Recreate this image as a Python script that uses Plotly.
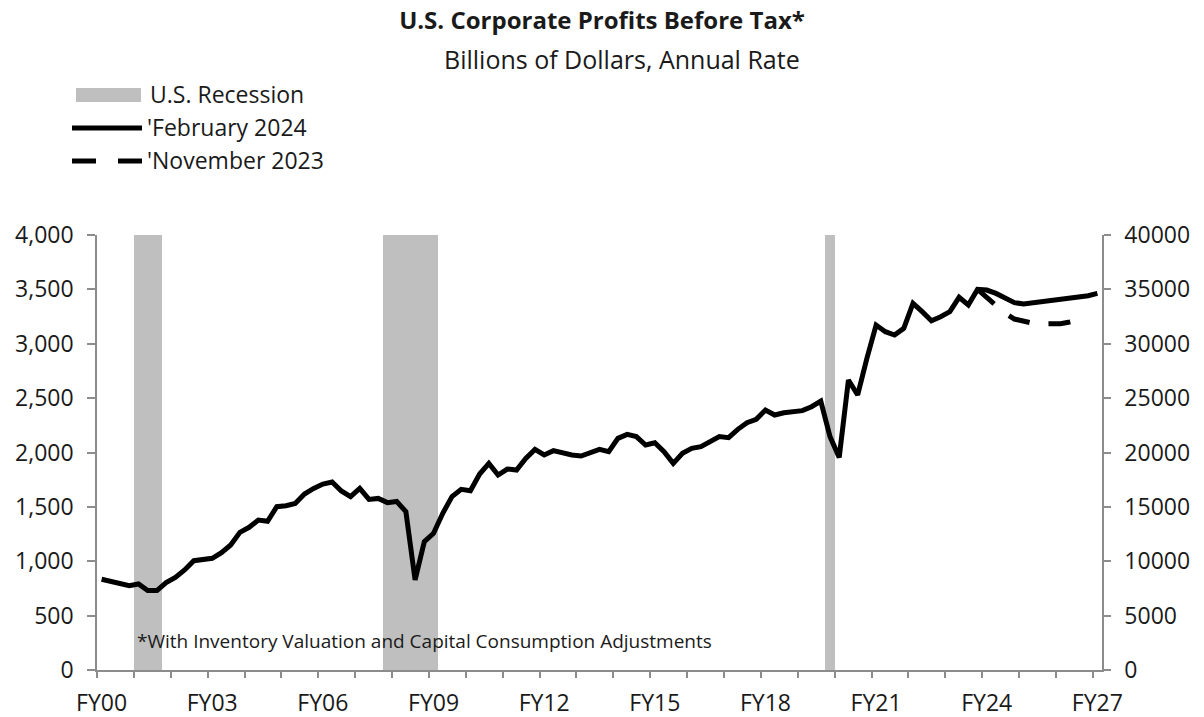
import plotly.graph_objects as go

# ---------------- data (quarterly, 2000Q1 .. 2027Q1) ----------------
feb2024 = [834, 812, 791, 775, 791, 730, 730, 803, 852, 920, 1005, 1011, 1027, 1079, 1149, 1266,
           1312, 1379, 1367, 1502, 1511, 1532, 1618, 1670, 1710, 1729, 1646, 1594, 1670, 1569, 1578, 1539,
           1550, 1456, 828, 1180, 1257, 1441, 1594, 1661, 1649, 1802, 1900, 1793, 1848, 1839, 1946, 2029,
           1977, 2017, 1992, 1977, 1968, 1998, 2029, 2008, 2130, 2167, 2146, 2069, 2090, 2008, 1900, 1992,
           2038, 2054, 2100, 2146, 2136, 2213, 2274, 2305, 2391, 2345, 2366, 2370, 2385, 2421, 2473, 2146,
           1955, 2667, 2529, 2866, 3172, 3111, 3080, 3142, 3372, 3295, 3212, 3249, 3295, 3427, 3356, 3500,
           3494, 3463, 3417, 3378, 3365, 3375, 3387, 3396, 3408, 3411, 3427, 3442, 3463]

nov2023_start = 95          # quarter index where the November 2023 forecast is visible
nov2023 = [3500, 3427, 3360, 3280, 3227, 3203, 3188, 3182, 3179, 3185, 3200, 3218]

recession_quarters = [4, 5, 6, 31, 32, 33, 34, 35, 36, 79]

tick_positions = [0, 12, 24, 36, 48, 60, 72, 84, 96, 108]
tick_labels = ["FY00", "FY03", "FY06", "FY09", "FY12", "FY15", "FY18", "FY21", "FY24", "FY27"]
year_boundaries = [-0.5 + 4 * k for k in range(28)]

left_ticks = list(range(0, 4001, 500))
right_ticks = list(range(0, 40001, 5000))

# ---------------- geometry helpers ----------------
W, H = 1204, 717
L, R, T, B = 97, 1102, 235, 670


def px(x):
    return (x - L) / (R - L)


def py(y):
    return (B - y) / (B - T)


FONT = "Open Sans"
TXT = "#1a1a1a"
AX = "#8c8c8c"
REC = "#BFBFBF"
LW = 5
FS = 23

x_all = list(range(len(feb2024)))
rec_y = [4000 if i in recession_quarters else None for i in x_all]

fig = go.Figure()
fig.add_trace(go.Bar(x=x_all, y=rec_y, width=1, marker=dict(color=REC, line=dict(width=0)),
                     name="U.S. Recession", showlegend=False, hoverinfo="skip"))
fig.add_trace(go.Scatter(x=list(range(nov2023_start, nov2023_start + len(nov2023))), y=nov2023,
                         mode="lines", name="'November 2023", showlegend=False,
                         line=dict(color="black", width=LW, dash="22px,19px")))
fig.add_trace(go.Scatter(x=x_all, y=feb2024, mode="lines", name="'February 2024", showlegend=False,
                         line=dict(color="black", width=LW)))
fig.add_trace(go.Scatter(x=[None], y=[None], yaxis="y2", showlegend=False, hoverinfo="skip"))

# ---------------- manual legend ----------------
shapes = [
    dict(type="rect", xref="paper", yref="paper", x0=px(76), x1=px(141), y0=py(102), y1=py(88),
         fillcolor=REC, line=dict(width=0)),
    dict(type="line", xref="paper", yref="paper", x0=px(72), x1=px(142), y0=py(128), y1=py(128),
         line=dict(color="black", width=LW)),
    dict(type="line", xref="paper", yref="paper", x0=px(72), x1=px(142), y0=py(161), y1=py(161),
         line=dict(color="black", width=LW, dash="24px,22px")),
]

annotations = [
    dict(text="Billions of Dollars, Annual Rate", xref="paper", yref="paper", x=px(622), y=py(59),
         xanchor="center", yanchor="middle", showarrow=False, font=dict(family=FONT, size=25, color=TXT)),
    dict(text="U.S. Recession", xref="paper", yref="paper", x=px(148), y=py(94),
         xanchor="left", yanchor="middle", showarrow=False, font=dict(family=FONT, size=FS, color=TXT)),
    dict(text="'February 2024", xref="paper", yref="paper", x=px(145), y=py(127),
         xanchor="left", yanchor="middle", showarrow=False, font=dict(family=FONT, size=FS, color=TXT)),
    dict(text="'November 2023", xref="paper", yref="paper", x=px(145), y=py(160),
         xanchor="left", yanchor="middle", showarrow=False, font=dict(family=FONT, size=FS, color=TXT)),
    dict(text="*With Inventory Valuation and Capital Consumption Adjustments", xref="paper", yref="paper",
         x=px(135), y=py(641), xanchor="left", yanchor="middle", showarrow=False,
         font=dict(family=FONT, size=19, color=TXT)),
]

fig.update_layout(
    width=W, height=H,
    margin=dict(l=L, r=W - R, t=T, b=H - B, pad=0, autoexpand=False),
    paper_bgcolor="white", plot_bgcolor="white",
    font=dict(family=FONT, size=FS, color=TXT),
    title=dict(text="<b>U.S. Corporate Profits Before Tax*</b>", x=px(602), xanchor="center",
               xref="paper", yref="container", y=1 - 21 / H, yanchor="middle",
               font=dict(family=FONT, size=24, color=TXT)),
    showlegend=False,
    bargap=0,
    shapes=shapes,
    annotations=annotations,
    xaxis=dict(range=[-0.5, 108.5], tickmode="array", tickvals=tick_positions, ticktext=tick_labels,
               ticks="", showline=True, linecolor=AX, linewidth=1.5, showgrid=False, zeroline=False,
               automargin=False,
               tickfont=dict(family=FONT, size=FS, color=TXT), ticklabelstandoff=12,
               minor=dict(tickmode="array", tickvals=year_boundaries, ticks="outside", ticklen=6,
                          tickcolor=AX, tickwidth=1.5, showgrid=False)),
    yaxis=dict(range=[0, 4000], tickmode="array", tickvals=left_ticks, tickformat=",",
               ticks="outside", ticklen=8, tickcolor=AX, tickwidth=1.5, showline=True, linecolor=AX,
               linewidth=1.5, showgrid=False, zeroline=False, ticklabelstandoff=9, automargin=False,
               tickfont=dict(family=FONT, size=FS, color=TXT)),
    yaxis2=dict(range=[0, 40000], overlaying="y", side="right", tickmode="array", tickvals=right_ticks,
                tickformat="d", ticks="outside", ticklen=7, tickcolor=AX, tickwidth=1.5, showline=True,
                linecolor=AX, linewidth=1.5, showgrid=False, zeroline=False, ticklabelstandoff=9,
                automargin=False, tickfont=dict(family=FONT, size=FS, color=TXT)),
)

fig.write_html("out.html", config={"displayModeBar": False},
               post_script="document.body.style.margin='0';document.body.style.overflow='hidden';")
